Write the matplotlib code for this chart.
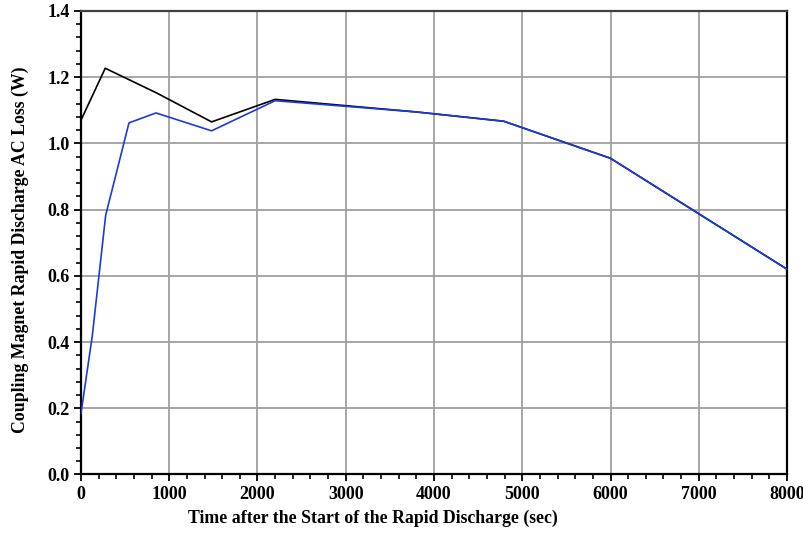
import matplotlib
matplotlib.use("Agg")
import matplotlib.pyplot as plt
from matplotlib.ticker import MultipleLocator

# Data
time_black = [0, 275, 860, 1480, 2200, 3800, 4790, 6000, 8000]
loss_black = [1.070, 1.227, 1.152, 1.065, 1.133, 1.095, 1.067, 0.955, 0.620]

time_blue = [0, 128, 280, 544, 850, 1480, 2200, 3800, 4790, 6000, 8000]
loss_blue = [0.184, 0.418, 0.783, 1.062, 1.092, 1.038, 1.129, 1.095, 1.067, 0.955, 0.620]

plt.rcParams["font.family"] = ["Liberation Serif", "DejaVu Serif"]
plt.rcParams["font.weight"] = "bold"

fig = plt.figure(figsize=(8.04, 5.33), dpi=100)
ax = fig.add_axes([0.1007, 0.1098, 0.8782, 0.8696])

ax.plot(time_black, loss_black, color="black", linewidth=1.2, zorder=3)
ax.plot(time_blue, loss_blue, color="#1a3ae0", linewidth=1.2, zorder=4)

ax.set_xlim(0, 8000)
ax.set_ylim(0, 1.4)
ax.xaxis.set_major_locator(MultipleLocator(1000))
ax.xaxis.set_minor_locator(MultipleLocator(200))
ax.yaxis.set_major_locator(MultipleLocator(0.2))
ax.yaxis.set_minor_locator(MultipleLocator(0.04))
ax.yaxis.set_major_formatter(matplotlib.ticker.FormatStrFormatter("%.1f"))

ax.grid(True, which="major", color="#a0a0a0", linewidth=1.3)
ax.set_axisbelow(True)

ax.tick_params(which="major", direction="out", length=5, width=1.3, labelsize=13, pad=3)
ax.tick_params(which="minor", direction="out", length=3.5, width=1.2)
for lbl in ax.get_xticklabels() + ax.get_yticklabels():
    lbl.set_fontweight("bold")

for side in ["left", "bottom", "right"]:
    ax.spines[side].set_color("black")
    ax.spines[side].set_linewidth(1.6)
ax.spines["top"].set_color("#404040")
ax.spines["top"].set_linewidth(1.6)

ax.set_xlabel("Time after the Start of the Rapid Discharge (sec)", fontsize=12.8, fontweight="bold")
ax.set_ylabel("Coupling Magnet Rapid Discharge AC Loss (W)", fontsize=12.8, fontweight="bold")
ax.xaxis.set_label_coords(0.414, -0.077)
ax.yaxis.set_label_coords(-0.074, 0.484)

plt.savefig("out.png", dpi=100)
plt.close()
